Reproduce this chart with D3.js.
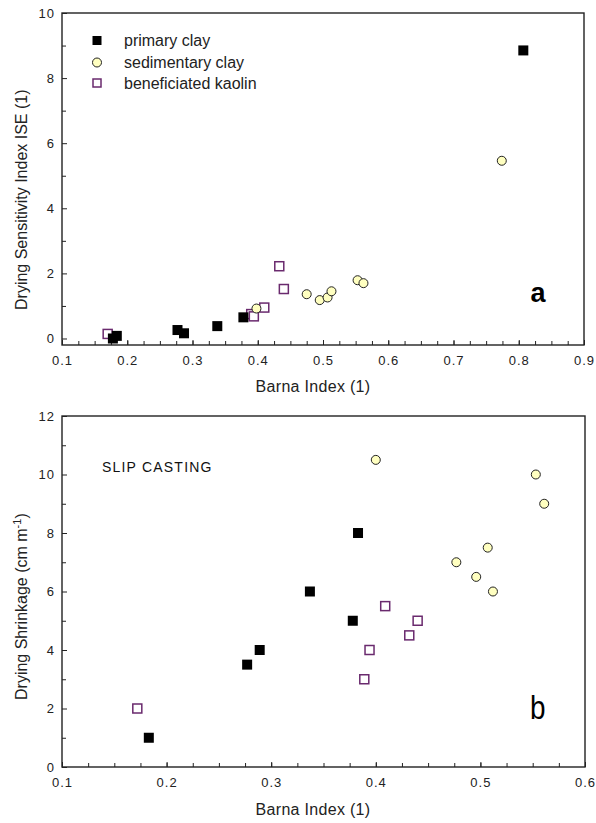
<!DOCTYPE html>
<html>
<head>
<meta charset="utf-8">
<script src="https://cdn.jsdelivr.net/npm/d3@7"></script>
<style>
  body { margin: 0; background: #fff; }
  svg { display: block; font-family: "Liberation Sans", Arial, sans-serif; }
  .tick text { fill: #222; font-size: 13px; letter-spacing: 1px; }
</style>
</head>
<body>
<div id="chart"></div>
<script>
// ---------------------------------------------------------------
// data, panel a : Barna index vs drying sensitivity index ISE
var seriesNames = ['primary clay','sedimentary clay','beneficiated kaolin'];

var aPrimaryX = [0.178, 0.184, 0.277, 0.287, 0.338, 0.378, 0.807];
var aPrimaryY = [0.00, 0.08, 0.26, 0.16, 0.38, 0.65, 8.85];
var aSedimentX = [0.398, 0.475, 0.495, 0.507, 0.513, 0.553, 0.562, 0.774];
var aSedimentY = [0.92, 1.36, 1.18, 1.26, 1.45, 1.79, 1.70, 5.46];
var aKaolinX = [0.170, 0.390, 0.394, 0.410, 0.433, 0.440];
var aKaolinY = [0.14, 0.75, 0.68, 0.95, 2.22, 1.52];

// data, panel b : Barna index vs drying shrinkage (slip casting)
var bPrimaryX = [0.183, 0.277, 0.289, 0.337, 0.378, 0.383];
var bPrimaryY = [1.0, 3.5, 4.0, 6.0, 5.0, 8.0];
var bSedimentX = [0.400, 0.477, 0.496, 0.507, 0.512, 0.553, 0.561];
var bSedimentY = [10.5, 7.0, 6.5, 7.5, 6.0, 10.0, 9.0];
var bKaolinX = [0.172, 0.389, 0.394, 0.409, 0.432, 0.440];
var bKaolinY = [2.0, 3.0, 4.0, 5.5, 4.5, 5.0];

var aXTicks = [0.1,0.2,0.3,0.4,0.5,0.6,0.7,0.8,0.9];
var aYTicks = [0,2,4,6,8,10];
var bXTicks = [0.1,0.2,0.3,0.4,0.5,0.6];
var bYTicks = [0,2,4,6,8,10,12];

// ---------------------------------------------------------------
var W = 596, H = 823;
var svg = d3.select('#chart').append('svg')
	.attr('width',W)
	.attr('height',H);

function zip(xs,ys){
	var out = [];
	for(var i=0,e=xs.length;i<e;++i){
		out.push({x: xs[i], y: ys[i]});
	};
	return out;
};

function minorTicks(lo,hi,step){
	var out = [];
	var n = Math.round((hi-lo)/step);
	for(var i=0;i<=n;++i){
		out.push(+(lo + i*step).toFixed(4));
	};
	return out;
};

// symbols
function drawPrimary(g,pts,x,y){
	g.selectAll('rect.primary').data(pts).enter()
		.append('rect')
		.attr('class','primary')
		.attr('x',function(d){ return x(d.x)-5; })
		.attr('y',function(d){ return y(d.y)-5; })
		.attr('width',10)
		.attr('height',10)
		.attr('fill','#000');
};
function drawSediment(g,pts,x,y){
	g.selectAll('circle.sed').data(pts).enter()
		.append('circle')
		.attr('class','sed')
		.attr('cx',function(d){ return x(d.x); })
		.attr('cy',function(d){ return y(d.y); })
		.attr('r',4.5)
		.attr('fill','#ffffc0')
		.attr('stroke','#222')
		.attr('stroke-width',1);
};
function drawKaolin(g,pts,x,y){
	g.selectAll('rect.kaolin').data(pts).enter()
		.append('rect')
		.attr('class','kaolin')
		.attr('x',function(d){ return x(d.x)-4.5; })
		.attr('y',function(d){ return y(d.y)-4.5; })
		.attr('width',9)
		.attr('height',9)
		.attr('fill','#fff')
		.attr('stroke','#6a2a6e')
		.attr('stroke-width',1.5);
};

function panel(opts){
	var x = d3.scaleLinear().domain(opts.xDomain).range([opts.left,opts.right]);
	var y = d3.scaleLinear().domain(opts.yDomain).range([opts.bottom,opts.top]);
	var g = svg.append('g');

	// minor ticks
	g.append('g')
		.attr('transform','translate(0,'+opts.bottom+')')
		.call(d3.axisBottom(x).tickValues(opts.xMinor).tickSize(-4).tickFormat(''))
		.call(function(s){ s.select('.domain').remove(); });
	g.append('g')
		.attr('transform','translate('+opts.left+',0)')
		.call(d3.axisLeft(y).tickValues(opts.yMinor).tickSize(-4).tickFormat(''))
		.call(function(s){ s.select('.domain').remove(); });

	// major ticks + labels
	g.append('g')
		.attr('transform','translate(0,'+opts.bottom+')')
		.call(d3.axisBottom(x).tickValues(opts.xTicks).tickSizeInner(-5).tickSizeOuter(0)
			.tickPadding(10.5).tickFormat(d3.format('.1f')))
		.call(function(s){ s.select('.domain').remove(); });
	g.append('g')
		.attr('transform','translate('+opts.left+',0)')
		.call(d3.axisLeft(y).tickValues(opts.yTicks).tickSizeInner(-5).tickSizeOuter(0)
			.tickPadding(7).tickFormat(d3.format('d')))
		.call(function(s){ s.select('.domain').remove(); });

	g.selectAll('.tick line').attr('stroke','#222');

	// frame
	g.append('rect')
		.attr('x',opts.left)
		.attr('y',opts.top)
		.attr('width',opts.right-opts.left)
		.attr('height',opts.bottom-opts.top)
		.attr('fill','none')
		.attr('stroke','#222')
		.attr('stroke-width',1.4);

	// titles
	g.append('text')
		.attr('x',313)
		.attr('y',opts.bottom+opts.xTitleGap)
		.attr('text-anchor','middle')
		.attr('font-size',16)
		.attr('letter-spacing',0.3)
		.attr('fill','#222')
		.text('Barna Index (1)');
	var yt = g.append('text')
		.attr('transform','translate(27,'+opts.yTitleStart+') rotate(-90)')
		.attr('text-anchor','start')
		.attr('font-size',16)
		.attr('fill','#222');
	if( opts.yTitleSup ){
		yt.append('tspan').text(opts.yTitle);
		yt.append('tspan').attr('baseline-shift','super').attr('font-size',11).text(opts.yTitleSup);
		yt.append('tspan').text(')');
	} else {
		yt.text(opts.yTitle);
	};

	var marks = g.append('g');
	drawKaolin(marks,opts.kaolin,x,y);
	drawSediment(marks,opts.sediment,x,y);
	drawPrimary(marks,opts.primary,x,y);

	return g;
};

var ga = panel({
	left: 62, right: 584, top: 13, bottom: 345
	,xDomain: [0.1,0.9], yDomain: [-0.2,10]
	,xTicks: aXTicks, yTicks: aYTicks
	,xMinor: minorTicks(0.1,0.9,0.025), yMinor: minorTicks(1,9,2)
	,xTitleGap: 46.5
	,yTitle: 'Drying Sensitivity Index ISE (1)', yTitleStart: 310
	,primary: zip(aPrimaryX,aPrimaryY)
	,sediment: zip(aSedimentX,aSedimentY)
	,kaolin: zip(aKaolinX,aKaolinY)
});

var gb = panel({
	left: 62, right: 585, top: 416, bottom: 767
	,xDomain: [0.1,0.6], yDomain: [0,12]
	,xTicks: bXTicks, yTicks: bYTicks
	,xMinor: minorTicks(0.1,0.6,0.025), yMinor: minorTicks(1,11,2)
	,xTitleGap: 48
	,yTitle: 'Drying Shrinkage (cm m', yTitleSup: '-1', yTitleStart: 700
	,primary: zip(bPrimaryX,bPrimaryY)
	,sediment: zip(bSedimentX,bSedimentY)
	,kaolin: zip(bKaolinX,bKaolinY)
});

// panel letters
ga.append('text')
	.attr('x',530.5)
	.attr('y',301.5)
	.attr('font-size',27)
	.attr('font-weight','bold')
	.attr('fill','#000')
	.text('a');
gb.append('text')
	.attr('transform','translate(530,718.5) scale(0.82,1)')
	.attr('font-size',34)
	.attr('fill','#000')
	.text('b');

gb.append('text')
	.attr('x',102)
	.attr('y',471.5)
	.attr('font-size',14)
	.attr('letter-spacing',1.2)
	.attr('fill','#111')
	.text('SLIP CASTING');

// legend, panel a
var legendY = [40.5,62.5,83];
var leg = ga.append('g');
leg.append('rect').attr('x',92.5).attr('y',legendY[0]-4.5).attr('width',9).attr('height',9).attr('fill','#000');
leg.append('circle').attr('cx',97).attr('cy',legendY[1]).attr('r',4.5)
	.attr('fill','#ffffc0').attr('stroke','#222');
leg.append('rect').attr('x',93).attr('y',legendY[2]-4).attr('width',8).attr('height',8)
	.attr('fill','#fff').attr('stroke','#6a2a6e').attr('stroke-width',1.5);
leg.selectAll('text.leg').data(seriesNames).enter()
	.append('text')
	.attr('class','leg')
	.attr('x',124)
	.attr('y',function(d,i){ return legendY[i]+5.5; })
	.attr('font-size',16)
	.attr('fill','#222')
	.text(function(d){ return d; });
</script>
</body>
</html>
